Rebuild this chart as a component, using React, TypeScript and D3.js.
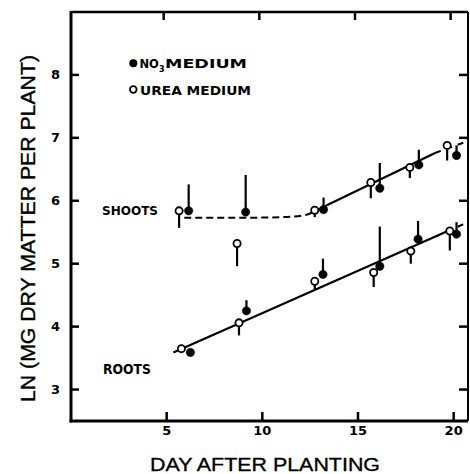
import React from "react";
import * as d3 from "d3";

// ---- data ----
const shootDaysNO3 = [6.15, 9.13, 13.2, 16.14, 18.18, 20.15];
const shootNO3 = [5.84, 5.82, 5.86, 6.2, 6.57, 6.72];
const shootNO3Upper = [6.26, 6.41, 6.05, 6.6, 6.81, 6.88];

const shootDaysUrea = [5.65, 8.68, 12.74, 15.67, 17.71, 19.66];
const shootUrea = [5.84, 5.32, 5.85, 6.29, 6.53, 6.88];
const shootUreaLower = [5.57, 4.96, 5.74, 6.04, 6.36, 6.64];

const rootDaysNO3 = [6.24, 9.17, 13.17, 16.14, 18.14, 20.15];
const rootNO3 = [3.59, 4.25, 4.83, 4.96, 5.39, 5.47];
const rootNO3Upper = [3.59, 4.42, 5.08, 5.59, 5.68, 5.66];

const rootDaysUrea = [5.77, 8.78, 12.74, 15.82, 17.76, 19.8];
const rootUrea = [3.65, 4.06, 4.72, 4.86, 5.2, 5.52];
const rootUreaLower = [3.6, 3.86, 4.59, 4.63, 5.0, 5.21];

// fitted curves
const shootEarlyDays = [5.92, 9, 11, 12.2, 12.8, 13.37];
const shootEarlyVals = [5.73, 5.73, 5.74, 5.77, 5.84, 5.93];
const shootFitDays = [13.37, 19.03];
const shootFitVals = [5.93, 6.76];
const shootExtDays = [19.03, 20.75];
const shootExtVals = [6.76, 6.95];
const rootFitDays = [5.35, 19.64];
const rootFitVals = [3.59, 5.51];
const rootExtDays = [19.64, 20.75];
const rootExtVals = [5.51, 5.66];

const xTicks = [5, 10, 15, 20];
const yTicks = [3, 4, 5, 6, 7, 8];

const W = 470;
const H = 474;

export default function App() {
  const x = d3.scaleLinear().domain([0, 20.75]).range([71, 468]);
  const y = d3.scaleLinear().domain([2.5, 9]).range([421, 12]);
  const line = d3
    .line<[number, number]>()
    .x((d) => x(d[0]))
    .y((d) => y(d[1]));
  const curve = d3
    .line<[number, number]>()
    .x((d) => x(d[0]))
    .y((d) => y(d[1]))
    .curve(d3.curveMonotoneX);
  const zip = (a: number[], b: number[]) =>
    a.map((v, i) => [v, b[i]] as [number, number]);

  const x0 = x(0);
  const x1 = x(20.75);
  const y0 = y(2.5);
  const y1 = y(9);

  const boldFont = "'DejaVu Sans', sans-serif";
  const titleFont = "'Liberation Sans', Arial, sans-serif";

  const bars = (
    days: number[],
    vals: number[],
    ends: number[],
    key: string
  ) =>
    days.map((d, i) => (
      <line
        key={key + i}
        x1={x(d)}
        x2={x(d)}
        y1={y(vals[i])}
        y2={y(ends[i])}
        stroke="#000"
        strokeWidth={2.2}
      />
    ));

  const dots = (days: number[], vals: number[], open: boolean, key: string) =>
    days.map((d, i) => (
      <circle
        key={key + i}
        cx={x(d)}
        cy={y(vals[i])}
        r={open ? 3.6 : 4.2}
        fill={open ? "#fff" : "#000"}
        stroke="#000"
        strokeWidth={open ? 1.8 : 0.5}
      />
    ));

  return (
    <svg
      width={W}
      height={H}
      style={{ position: "absolute", left: 0, top: 0, background: "#fff" }}
    >
      <rect x={0} y={0} width={W} height={H} fill="#fff" />
      {/* frame */}
      <line x1={x0} x2={x0} y1={y1 - 1} y2={y0 + 1.5} stroke="#000" strokeWidth={3} />
      <line x1={x0 - 1.5} x2={x1} y1={y0} y2={y0} stroke="#000" strokeWidth={3} />
      <line x1={x0} x2={x1} y1={y1} y2={y1} stroke="#000" strokeWidth={2.5} />
      <line x1={x1} x2={x1} y1={y1} y2={y0} stroke="#000" strokeWidth={2} />

      {/* ticks */}
      {yTicks.map((t) => (
        <g key={"yt" + t}>
          <line x1={x0} x2={x0 + 8} y1={y(t)} y2={y(t)} stroke="#000" strokeWidth={2.5} />
          <line x1={x1} x2={x1 - 9} y1={y(t)} y2={y(t)} stroke="#000" strokeWidth={2.5} />
          <text
            x={60}
            y={y(t) + 4}
            textAnchor="end"
            fontFamily={boldFont}
            fontWeight="bold"
            fontSize={13}
          >
            {t}
          </text>
        </g>
      ))}
      {xTicks.map((t) => (
        <g key={"xt" + t}>
          <line x1={x(t)} x2={x(t)} y1={y0} y2={y0 - 9} stroke="#000" strokeWidth={2.5} />
          <line x1={x(t) - 3} x2={x(t) - 3} y1={y1} y2={y1 + 8} stroke="#000" strokeWidth={2.5} />
          <text
            x={x(t)}
            y={435}
            textAnchor="middle"
            fontFamily={boldFont}
            fontWeight="bold"
            fontSize={13}
          >
            {t}
          </text>
        </g>
      ))}

      {/* fit lines */}
      <path
        d={curve(zip(shootEarlyDays, shootEarlyVals)) || ""}
        fill="none"
        stroke="#000"
        strokeWidth={2}
        strokeDasharray="7,4"
      />
      <path d={line(zip(shootFitDays, shootFitVals)) || ""} fill="none" stroke="#000" strokeWidth={2.2} />
      <path
        d={line(zip(shootExtDays, shootExtVals)) || ""}
        fill="none"
        stroke="#000"
        strokeWidth={2}
        strokeDasharray="6,6"
      />
      <path d={line(zip(rootFitDays, rootFitVals)) || ""} fill="none" stroke="#000" strokeWidth={2.2} />
      <path
        d={line(zip(rootExtDays, rootExtVals)) || ""}
        fill="none"
        stroke="#000"
        strokeWidth={2}
        strokeDasharray="6,6"
      />

      {/* error bars */}
      {bars(shootDaysNO3, shootNO3, shootNO3Upper, "sbn")}
      {bars(shootDaysUrea, shootUrea, shootUreaLower, "sbu")}
      {bars(rootDaysNO3, rootNO3, rootNO3Upper, "rbn")}
      {bars(rootDaysUrea, rootUrea, rootUreaLower, "rbu")}

      {/* points */}
      {dots(shootDaysUrea, shootUrea, true, "su")}
      {dots(shootDaysNO3, shootNO3, false, "sn")}
      {dots(rootDaysUrea, rootUrea, true, "ru")}
      {dots(rootDaysNO3, rootNO3, false, "rn")}

      {/* series labels */}
      <text
        x={102}
        y={215}
        fontFamily={boldFont}
        fontWeight="bold"
        fontSize={13}
        textLength={56}
        lengthAdjust="spacingAndGlyphs"
      >
        SHOOTS
      </text>
      <text
        x={103}
        y={373.5}
        fontFamily={boldFont}
        fontWeight="bold"
        fontSize={13.5}
        textLength={48}
        lengthAdjust="spacingAndGlyphs"
      >
        ROOTS
      </text>

      {/* legend */}
      <circle cx={133.3} cy={63.3} r={4} fill="#000" />
      <text y={67.5} fontFamily={boldFont} fontWeight="bold" fontSize={11.5}>
        <tspan x={139.5}>NO</tspan>
        <tspan x={159} dy={4} fontSize={8}>
          3
        </tspan>
        <tspan
          x={165}
          dy={-4}
          fontSize={12.5}
          textLength={82}
          lengthAdjust="spacingAndGlyphs"
        >
          MEDIUM
        </tspan>
      </text>
      <circle cx={133.3} cy={89.5} r={3.3} fill="#fff" stroke="#000" strokeWidth={1.8} />
      <text
        x={140}
        y={95}
        fontFamily={boldFont}
        fontWeight="bold"
        fontSize={12.5}
        textLength={111}
        lengthAdjust="spacingAndGlyphs"
      >
        UREA MEDIUM
      </text>

      {/* axis titles */}
      <text
        x={265}
        y={471}
        textAnchor="middle"
        fontFamily={titleFont}
        fontSize={19}
        stroke="#000"
        strokeWidth={0.35}
        textLength={230}
        lengthAdjust="spacingAndGlyphs"
      >
        DAY AFTER PLANTING
      </text>
      <text
        transform="translate(35,228.5) rotate(-90)"
        textAnchor="middle"
        fontFamily={titleFont}
        fontSize={19.5}
        stroke="#000"
        strokeWidth={0.35}
        textLength={347}
        lengthAdjust="spacingAndGlyphs"
      >
        LN (MG DRY MATTER PER PLANT)
      </text>
    </svg>
  );
}
